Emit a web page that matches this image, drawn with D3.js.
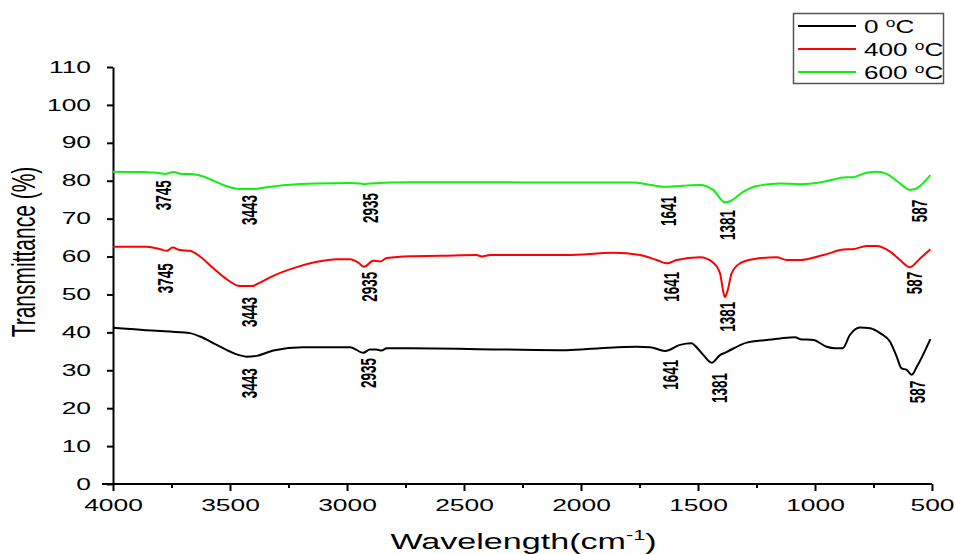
<!DOCTYPE html>
<html>
<head>
<meta charset="utf-8">
<script src="https://cdn.jsdelivr.net/npm/d3@7"></script>
<style>
	body { margin: 0; background: #fff; }
	svg { display: block; font-family: 'Liberation Sans', Arial, sans-serif; }
</style>
</head>
<body>
<div id="chart"></div>
<script>
// wavenumber (cm-1) / transmittance (%)
const wn0 = [4000, 3871, 3756, 3671, 3628, 3557, 3471, 3429, 3386, 3315, 3187, 2987, 2930, 2902, 2876, 2852, 2830, 2731, 2346, 2061, 1919, 1762, 1705, 1641, 1577, 1527, 1513, 1477, 1441, 1406, 1385, 1292, 1206, 1149, 1085, 1064, 1007, 950, 915, 882, 851, 808, 765, 722, 679, 651, 630, 608, 587, 565, 507]
const t0 = [41.2, 40.6, 40.2, 39.8, 38.9, 36.7, 34.2, 33.6, 33.8, 35.2, 36.1, 36.1, 34.6, 35.5, 35.5, 35.2, 35.8, 35.8, 35.5, 35.3, 35.8, 36.2, 36.1, 35.1, 36.7, 37.1, 36.5, 34.0, 32.0, 34.0, 34.6, 37.3, 38.0, 38.4, 38.7, 38.2, 38.0, 36.2, 35.8, 35.8, 39.3, 41.3, 41.1, 39.8, 37.5, 33.6, 30.5, 30.1, 28.8, 30.9, 38.2]

const wn400 = [4000, 3856, 3785, 3771, 3745, 3714, 3671, 3628, 3571, 3514, 3457, 3407, 3372, 3315, 3215, 3129, 3044, 2987, 2952, 2927, 2888, 2859, 2830, 2731, 2603, 2446, 2424, 2389, 2061, 1862, 1748, 1677, 1634, 1591, 1492, 1435, 1406, 1392, 1385, 1375, 1356, 1321, 1264, 1164, 1121, 1064, 965, 865, 843, 779, 736, 679, 637, 594, 551, 507]
const t400 = [62.6, 62.6, 61.7, 61.5, 62.4, 61.7, 61.5, 60.0, 56.9, 54.0, 52.2, 52.2, 53.1, 54.9, 57.2, 58.6, 59.3, 59.3, 58.4, 57.3, 58.9, 58.7, 59.6, 60.1, 60.2, 60.4, 60.0, 60.4, 60.4, 61.0, 60.4, 59.1, 58.2, 59.1, 59.8, 58.4, 55.6, 50.7, 49.3, 50.7, 55.6, 58.2, 59.3, 59.8, 59.1, 59.1, 60.4, 61.9, 61.9, 62.8, 62.8, 61.3, 59.1, 57.2, 59.5, 61.9]

const wn600 = [4000, 3872, 3799, 3778, 3742, 3706, 3671, 3637, 3585, 3530, 3471, 3402, 3343, 3258, 3129, 2987, 2944, 2927, 2902, 2731, 2432, 2061, 1778, 1719, 1648, 1563, 1492, 1435, 1385, 1363, 1306, 1249, 1149, 1064, 965, 865, 843, 779, 736, 694, 637, 594, 573, 507]
const t600 = [82.4, 82.3, 82.0, 81.8, 82.3, 81.8, 81.8, 81.5, 80.4, 78.9, 77.9, 77.8, 78.3, 78.9, 79.3, 79.4, 79.3, 79.1, 79.3, 79.6, 79.6, 79.5, 79.5, 79.1, 78.4, 78.7, 78.9, 77.6, 74.3, 74.6, 77.1, 78.6, 79.3, 79.1, 79.7, 80.9, 80.9, 82.1, 82.4, 81.8, 79.3, 77.6, 77.8, 81.5]

const seriesNames = ['0', '400', '600']
const seriesColors = ['#000000', '#ff0000', '#11ee11']

// peak labels: text, position (wn, T)
const peakText = ['3745', '3443', '2935', '1641', '1381', '587', '3745', '3443', '2935', '1641', '1381', '587', '3443', '2935', '1641', '1381', '587']
const peakWn = [3786, 3419, 2902, 1628, 1376, 556, 3778, 3419, 2906, 1615, 1376, 577, 3419, 2910, 1620, 1410, 564]
const peakT = [76.2, 72.3, 72.8, 72.0, 68.3, 72.0, 54.3, 45.4, 52.0, 52.0, 44.1, 53.0, 26.6, 29.3, 28.8, 25.3, 24.3]

const xTicks = [4000, 3500, 3000, 2500, 2000, 1500, 1000, 500]
const xMinor = [3750, 3250, 2750, 2250, 1750, 1250, 750]
const yTicks = [0, 10, 20, 30, 40, 50, 60, 70, 80, 90, 100, 110]

const chart = {
	width: 955,
	height: 554,
	margin: { top: 67, right: 23, bottom: 70, left: 113 },
	stretch: 1.65,

	draw(element) {
		const m = this.margin
		const svg = d3.select(`#${element}`)
			.append('svg')
			.attr('width', this.width)
			.attr('height', this.height)

		const x = d3.scaleLinear()
			.domain([4000, 500])
			.range([m.left, this.width - m.right])

		const y = d3.scaleLinear()
			.domain([0, 110])
			.range([this.height - m.bottom, m.top])

		const s = this.stretch

		// x axis
		const xAxis = svg.append('g')
			.attr('transform', `translate(0,${y(0)})`)
			.call(d3.axisBottom(x).tickValues(xTicks).tickSize(7).tickFormat(d3.format('d')))
		xAxis.select('.domain').remove()
		xAxis.selectAll('line').attr('stroke-width', 2)
		xAxis.selectAll('text')
			.attr('y', 16)
			.attr('font-size', 16)
			.attr('font-family', "'Liberation Sans', Arial, sans-serif")
			.attr('fill', '#000')
			.attr('transform', `scale(${s},1)`)

		svg.append('g')
			.attr('transform', `translate(0,${y(0)})`)
			.call(d3.axisBottom(x).tickValues(xMinor).tickSize(4).tickFormat(''))
			.call(g => g.select('.domain').remove())
			.selectAll('line').attr('stroke-width', 2)

		svg.append('line')
			.attr('x1', m.left - 11)
			.attr('x2', x(500))
			.attr('y1', y(0))
			.attr('y2', y(0))
			.attr('stroke', '#000')
			.attr('stroke-width', 2)

		// y axis
		const yAxis = svg.append('g')
			.attr('transform', `translate(${m.left},0)`)
			.call(d3.axisLeft(y).tickValues(yTicks).tickSize(6).tickSizeOuter(0))
		yAxis.select('.domain').attr('stroke-width', 2)
		yAxis.selectAll('line').attr('stroke-width', 2)
		yAxis.selectAll('text')
			.attr('x', -22 / s)
			.attr('font-size', 16)
			.attr('font-family', "'Liberation Sans', Arial, sans-serif")
			.attr('fill', '#000')
			.attr('transform', `scale(${s},1)`)

		// axis titles
		const xt = svg.append('text')
			.attr('transform', `translate(${(m.left + this.width - m.right) / 2 + 1},549) scale(1.55,1)`)
			.attr('text-anchor', 'middle')
			.attr('font-size', 22)
			.text('Wavelength(cm')
		xt.append('tspan').attr('font-size', 14).attr('dy', -9).text('-1')
		xt.append('tspan').attr('dy', 9).text(')')

		svg.append('text')
			.attr('transform', `translate(35,252) scale(1.6,1) rotate(-90)`)
			.attr('text-anchor', 'middle')
			.attr('font-size', 21)
			.text('Transmittance (%)')

		// curves
		const wns = [wn0, wn400, wn600]
		const ts = [t0, t400, t600]
		const line = d3.line()
			.x(d => x(d[0]))
			.y(d => y(d[1]))
			.curve(d3.curveMonotoneX)

		svg.append('g')
			.selectAll('path')
			.data(seriesNames)
			.join('path')
			.attr('d', (d, i) => line(d3.zip(wns[i], ts[i])))
			.attr('fill', 'none')
			.attr('stroke', (d, i) => seriesColors[i])
			.attr('stroke-width', 2)
			.attr('stroke-linejoin', 'round')

		// peak labels
		svg.append('g')
			.selectAll('text')
			.data(peakText)
			.join('text')
			.attr('transform', (d, i) => `translate(${x(peakWn[i])},${y(peakT[i])}) scale(1.7,1) rotate(-90)`)
			.attr('text-anchor', 'middle')
			.attr('dy', '0.35em')
			.attr('font-size', 13.5)
			.attr('font-weight', 'bold')
			.text(d => d)

		// legend
		const legend = svg.append('g')
		legend.append('rect')
			.attr('x', 793.5)
			.attr('y', 13.5)
			.attr('width', 150)
			.attr('height', 70)
			.attr('fill', '#fff')
			.attr('stroke', '#555')
			.attr('stroke-width', 1.5)

		const rows = legend.selectAll('g')
			.data(seriesNames)
			.join('g')
			.attr('transform', (d, i) => `translate(0,${26 + i * 23})`)

		rows.append('line')
			.attr('x1', 798)
			.attr('x2', 856)
			.attr('stroke', (d, i) => seriesColors[i])
			.attr('stroke-width', 2)

		const lt = rows.append('text')
			.attr('transform', 'translate(864,6.5) scale(1.45,1)')
			.attr('font-size', 18)
		lt.append('tspan').text(d => d + ' ')
		lt.append('tspan').attr('font-size', 12).attr('dy', -6).text('o')
		lt.append('tspan').attr('dy', 6).text('C')
	}
}

chart.draw('chart')
</script>
</body>
</html>
